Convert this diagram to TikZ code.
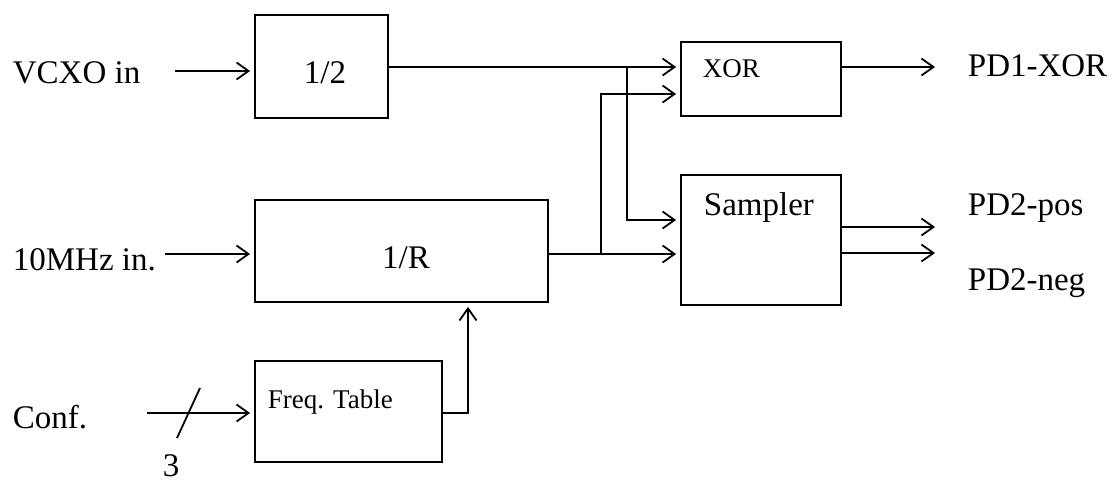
\documentclass[tikz,border=0pt]{standalone}
\usepackage{fontspec}
\setmainfont{Liberation Serif}
\usetikzlibrary{arrows.meta}
\begin{document}
\begin{tikzpicture}[x=1pt,y=-1pt,
  line width=1.8pt,
  blk/.style={draw, rectangle, line width=1.8pt, inner sep=0pt},
  lbl/.style={font=\fontsize{33}{38}\selectfont, inner sep=0pt, anchor=base west},
  sml/.style={font=\fontsize{27}{31}\selectfont, inner sep=0pt, anchor=base west},
  arr/.style={-{Straight Barb[length=12pt,width=17pt,line width=1.8pt]}, shorten >=4pt}]
\useasboundingbox (0,0) rectangle (1118,482);

% blocks
\node[blk, minimum width=133pt, minimum height=103pt] (half) at (321.5,66.5) {};
\node[blk, minimum width=293pt, minimum height=102pt] (divR) at (401.5,251) {};
\node[blk, minimum width=160pt, minimum height=74pt] (xor) at (761,79) {};
\node[blk, minimum width=160pt, minimum height=130pt] (samp) at (761,240) {};
\node[blk, minimum width=187pt, minimum height=101pt] (freq) at (348.5,411.5) {};

% block texts
\node[lbl, anchor=base] (thalf) at (325,83) {1/2};
\node[lbl, anchor=base] (tdivR) at (406,268) {1/R};
\node[sml] (txor) at (702,77) {XOR};
\node[lbl] (tsamp) at (703,215) {Sampler};
\node[sml] (tfreq) at (267,408) {Freq. Table};

% outer labels
\node[lbl] (vcxo) at (12,83) {VCXO in};
\node[lbl] (ten) at (12,270) {10MHz in.};
\node[lbl] (conf) at (12,428) {Conf.};
\node[lbl] (three) at (162,476) {3};
\node[lbl] (pd1) at (967,76) {PD1-XOR};
\node[lbl] (pd2p) at (967,215) {PD2-pos};
\node[lbl] (pd2n) at (967,290) {PD2-neg};

% free ends
\coordinate (vin) at (175,71);
\coordinate (tin) at (165,254);
\coordinate (cin) at (147,413);
\coordinate (xout) at (939,67);
\coordinate (sout1) at (939,227);
\coordinate (sout2) at (939,253);
\coordinate (tapA) at (627,67);
\coordinate (tapB) at (601,254);
\coordinate (fcol) at (468,413);

% inputs
\draw[arr] (vin) -- (half.west |- vin);
\draw[arr] (tin) -- (divR.west |- tin);
\draw[arr] (cin) -- (freq.west |- cin);
\draw (177,438) -- (200,388);

% 1/2 to XOR and Sampler
\draw[arr] (half.east |- tapA) -- (xor.west |- tapA);
\draw[arr] (tapA) -- (627,220) -- (samp.west |- 0,220);

% 1/R to Sampler and XOR
\draw[arr] (divR.east |- tapB) -- (samp.west |- tapB);
\draw[arr] (tapB) -- (601,94) -- (xor.west |- 0,94);

% Freq table to 1/R
\draw[arr] (freq.east |- fcol) -- (fcol) -- (divR.south -| fcol);

% outputs
\draw[arr] (xor.east |- xout) -- (xout);
\draw[arr] (samp.east |- sout1) -- (sout1);
\draw[arr] (samp.east |- sout2) -- (sout2);
\end{tikzpicture}
\end{document}
